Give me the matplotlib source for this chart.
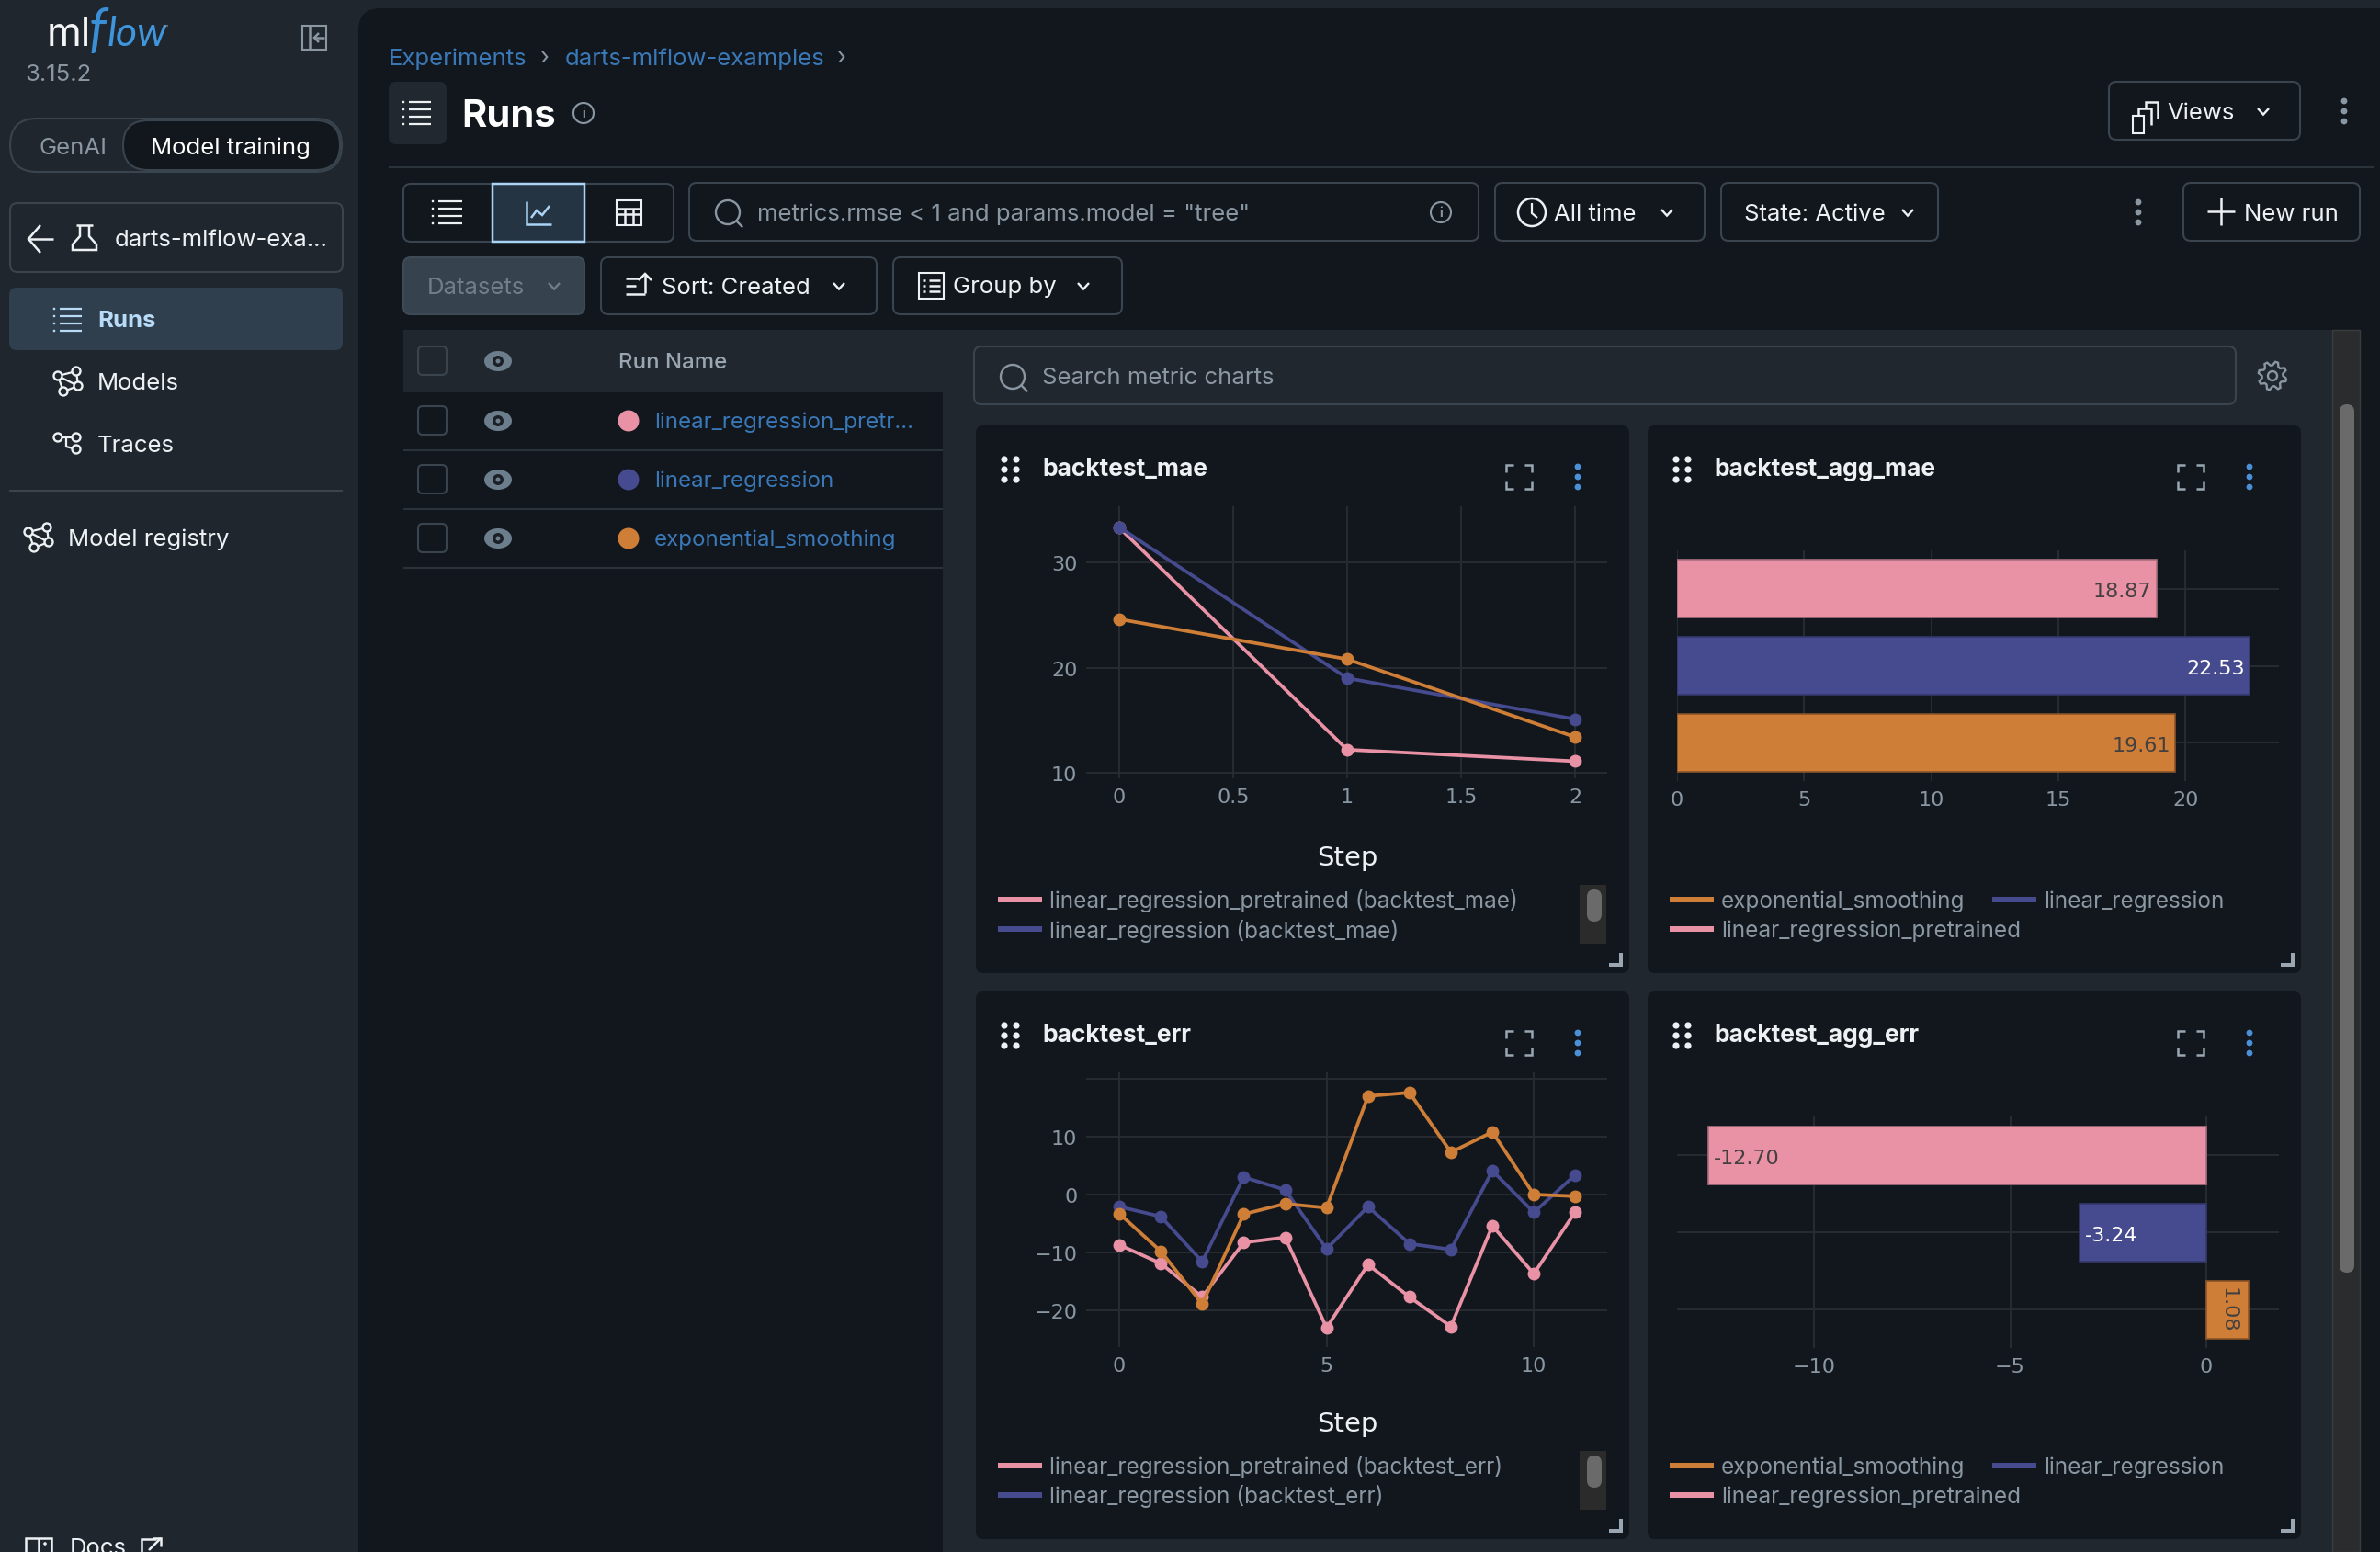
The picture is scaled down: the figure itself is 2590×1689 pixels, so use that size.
"""MLflow runs page with the metric charts of darts-mlflow-examples."""
import numpy as np
import matplotlib
matplotlib.use("Agg")
import matplotlib.pyplot as plt
from matplotlib.patches import FancyBboxPatch, Circle, Ellipse, Rectangle

W, H = 2590, 1690

# ---------- Data ----------
RUN_NAMES = ["linear_regression_pretrained", "linear_regression", "exponential_smoothing"]
RUN_LABELS = ["linear_regression_pretr...", "linear_regression", "exponential_smoothing"]

MAE_STEPS = [0, 1, 2]
MAE_PRETRAINED = [33.3, 12.2, 11.1]
MAE_LINEAR = [33.35, 19.0, 15.1]
MAE_EXP = [24.6, 20.8, 13.4]

ERR_STEPS = [0, 1, 2, 3, 4, 5, 6, 7, 8, 9, 10, 11]
ERR_PRETRAINED = [-8.7, -11.9, -17.7, -8.3, -7.4, -23.0, -12.1, -17.7, -22.8, -5.4, -13.7, -3.0]
ERR_LINEAR = [-2.1, -3.8, -11.6, 3.0, 0.8, -9.4, -2.1, -8.5, -9.5, 4.1, -3.1, 3.4]
ERR_EXP = [-3.3, -9.8, -18.9, -3.4, -1.6, -2.3, 17.0, 17.6, 7.3, 10.8, 0.0, -0.3]

AGG_MAE = [19.61, 22.53, 18.87]
AGG_ERR = [1.08, -3.24, -12.70]
AGG_NAMES = ["exponential_smoothing", "linear_regression", "linear_regression_pretrained"]

# ---------- Colours ----------
PINK = "#e992a6"
BLUE = "#464a8e"
ORANGE = "#cf7e38"
SIDE = "#1f262d"
PANEL = "#21272f"
DARK = "#11171c"
BORDER = "#3a444e"
GRID = "#252b31"
MUTED = "#8a97a3"
LINK = "#3a78b8"
WHITE = "#eef1f4"
UI_FONT = "Inter"
TICK_FONT = "DejaVu Sans"
UI_SIZE = 18.5
LEGEND_SIZE = 17.5
TICK_SIZE = 16

fig = plt.figure(figsize=(W / 100, H / 100), dpi=100, facecolor=SIDE)
ui = fig.add_axes([0, 0, 1, 1], zorder=0)
ui.set_xlim(0, W)
ui.set_ylim(H, 0)
ui.axis("off")


# ---------- Helpers ----------
def box(l, t, r, b, fc="none", ec=BORDER, rad=8, lw=1.5, z=2):
    ui.add_patch(FancyBboxPatch((l, t), r - l, b - t, boxstyle=f"round,pad=0,rounding_size={rad}",
                                fc=fc, ec=ec, lw=lw, zorder=z))


def txt(x, y, s, size=UI_SIZE, color=WHITE, weight="normal", ha="left", font=UI_FONT, **kw):
    ui.text(x, y + 2, s, fontsize=size, color=color, weight=weight, ha=ha, va="center",
            family=font, zorder=5, **kw)


def line(xs, ys, color=WHITE, lw=1.8, z=4):
    ui.plot(xs, ys, color=color, lw=lw, solid_capstyle="butt", solid_joinstyle="miter", zorder=z)


def dot(x, y, r, color, z=4):
    ui.add_patch(Circle((x, y), r, fc=color, ec="none", zorder=z))


def chevron(x, y, color=WHITE, s=6):
    line([x - s, x, x + s], [y - s * 0.5, y + s * 0.6, y - s * 0.5], color, 1.7)


def kebab(x, y, color=MUTED, gap=11, r=3.4):
    for k in (-1, 0, 1):
        dot(x, y + k * gap, r, color)


def list_icon(cx, cy, color=WHITE, w=16, gap=8):
    for k in (-1.5, -0.5, 0.5, 1.5):
        dot(cx - w - 2, cy + k * gap, 1.3, color)
        line([cx - w + 4, cx + w], [cy + k * gap, cy + k * gap], color, 1.6)


def magnifier(cx, cy, color=MUTED, r=13):
    ui.add_patch(Circle((cx, cy), r, fc="none", ec=color, lw=1.7, zorder=4))
    line([cx + r * 0.7, cx + r * 1.25], [cy + r * 0.7, cy + r * 1.25], color, 1.7)


def info(cx, cy, color=MUTED, r=11):
    ui.add_patch(Circle((cx, cy), r, fc="none", ec=color, lw=1.5, zorder=4))
    txt(cx, cy - 2, "i", 10, color, "bold", ha="center")


def ring(x, y, color=WHITE, r=4.5):
    ui.add_patch(Circle((x, y), r, fc=SIDE, ec=color, lw=1.7, zorder=5))


def model_icon(cx, cy, color=WHITE):
    pts = [(-11, -6), (9, -11), (11, 5), (-5, 11)]
    for a, b in zip(pts, pts[1:] + pts[:1]):
        line([cx + a[0], cx + b[0]], [cy + a[1], cy + b[1]], color, 1.6)
    line([cx - 11, cx + 11], [cy - 6, cy + 5], color, 1.6)
    for p in pts:
        ring(cx + p[0], cy + p[1], color)


def trace_icon(cx, cy, color=WHITE):
    line([cx - 11, cx + 9], [cy - 7, cy - 7], color, 1.6)
    line([cx - 2, cx - 2, cx + 9], [cy - 7, cy + 3, cy + 6], color, 1.6)
    for p in [(-11, -7), (9, -7), (9, 6)]:
        ring(cx + p[0], cy + p[1], color)


def gear(cx, cy, color=MUTED):
    ang = np.linspace(0, 2 * np.pi, 33)
    rad = np.where(np.arange(33) % 4 < 2, 15.5, 11.5)
    line(cx + rad * np.cos(ang + 0.2), cy + rad * np.sin(ang + 0.2), color, 1.7)
    ui.add_patch(Circle((cx, cy), 5, fc="none", ec=color, lw=1.7, zorder=4))


def drag(x, y):
    for i in (0, 1):
        for j in (0, 1, 2):
            dot(x + i * 13, y + j * 11, 3.6, WHITE)


def expand(l, t, r, b, color="#9aa7b2"):
    s = 8
    line([l, l, l + s], [t + s, t, t], color)
    line([r - s, r, r], [t, t, t + s], color)
    line([l, l, l + s], [b - s, b, b], color)
    line([r - s, r, r], [b, b, b - s], color)


def corner(r, b, color="#9aa7b2"):
    ui.add_patch(Rectangle((r - 15, b - 4), 15, 4, fc=color, ec="none", zorder=4))
    ui.add_patch(Rectangle((r - 4, b - 15), 4, 15, fc=color, ec="none", zorder=4))


def px_axes(l, t, r, b):
    ax = fig.add_axes([l / W, 1 - b / H, (r - l) / W, (b - t) / H], zorder=3)
    ax.set_facecolor("none")
    for s in ax.spines.values():
        s.set_visible(False)
    ax.grid(True, color=GRID, lw=1.5)
    ax.set_axisbelow(True)
    ax.tick_params(length=0, labelsize=TICK_SIZE, labelcolor=MUTED, pad=7)
    return ax


def legend_line(x0, x1, y, color):
    ui.add_patch(Rectangle((x0, y - 3), x1 - x0, 6, fc=color, ec="none", zorder=4))


def card(l, t, r, b, title):
    box(l, t, r, b, fc=DARK, ec="none", rad=8, lw=0, z=1.5)
    drag(l + 31, t + 37)
    txt(l + 72, t + 45, title, 19, WHITE, "bold")
    expand(r - 134, t + 43, r - 106, t + 69)
    kebab(r - 56, t + 56, "#4a90d9")
    corner(r - 7, b - 7)


# ---------- Page frame ----------
box(390, 10, W + 40, H + 40, fc=DARK, ec="none", rad=24, lw=0, z=1)

# sidebar
txt(51, 36, "ml", 31, "#f2f4f6")
txt(97, 32, "f", 42, "#3b8fd6", style="italic", font="Lato")
txt(117, 36, "low", 32, "#3f96dc", style="italic", font="Lato")
txt(178, 28, "\u2122", 6, MUTED)
txt(27, 80, "3.15.2", 18.5, MUTED)
box(329, 29, 355, 55, ec=MUTED, rad=0)
line([337, 337], [29, 55], MUTED)
line([342, 353], [42, 42], MUTED)
line([347, 342, 347], [37, 42, 47], MUTED)

box(11, 130, 372, 188, ec=BORDER, rad=29)
box(134, 132, 370, 186, fc=DARK, ec=BORDER, rad=27)
txt(80, 159, "GenAI", UI_SIZE, MUTED, ha="center")
txt(251, 159, "Model training", UI_SIZE, "#ffffff", ha="center")

box(11, 222, 373, 297)
line([32, 58], [261, 261], WHITE)
line([44, 31, 44], [246, 261, 276], WHITE)
line([87, 87, 79, 79, 105, 105, 97, 97], [246, 258, 267, 273, 273, 267, 258, 246], WHITE)
line([83, 101], [246, 246], WHITE)
txt(125, 259, "darts-mlflow-exa...")

box(10, 314, 373, 382, fc="#2f3f4e", ec="none", rad=8, lw=0)
list_icon(75, 349, "#b8dcf7", 14, 8)
txt(106, 347, "Runs", UI_SIZE, "#b8dcf7", "bold")
model_icon(74, 416)
txt(106, 415, "Models")
trace_icon(74, 484)
txt(106, 483, "Traces")
line([10, 373], [535, 535], BORDER, 1.5)
model_icon(42, 586)
txt(74, 585, "Model registry")
# book icon cut off by the bottom of the page
line([28, 28, 42, 56, 56], [1695, 1675, 1675, 1675, 1695], WHITE)
line([42, 42], [1675, 1695], WHITE)
dot(49, 1681, 1.8, WHITE)
txt(76, 1684, "Docs")
line([170, 154, 154], [1676, 1676, 1695], WHITE)
line([162, 175], [1688, 1675], WHITE)
line([166, 175, 175], [1675, 1675, 1684], WHITE)

# header
txt(423, 62, "Experiments", UI_SIZE, LINK)
txt(593, 62, "›", UI_SIZE, MUTED, ha="center")
txt(615, 62, "darts-mlflow-examples", UI_SIZE, LINK)
txt(916, 62, "›", UI_SIZE, MUTED, ha="center")
box(423, 90, 486, 158, fc="#21282f", ec="none", lw=0)
list_icon(455, 124, WHITE, 14, 8)
txt(502, 125, "Runs", 30, "#ffffff", "bold")
info(635, 124)
box(2295, 90, 2503, 153)
box(2321, 127, 2333, 146, ec=WHITE, rad=0)
line([2327, 2327, 2341, 2341], [127, 119, 119, 137], WHITE)
line([2335, 2335, 2348, 2348], [119, 112, 112, 130], WHITE)
txt(2358, 121, "Views")
chevron(2463, 122)
kebab(2551, 122)
line([423, 2584], [183, 183], "#2a323a", 1.5)

# toolbar
box(439, 201, 733, 264)
box(536, 201, 636, 264, fc="#253442", ec="#a9d4f5", rad=0, lw=1.8, z=3)
list_icon(488, 232, WHITE, 15, 8)
line([573, 573, 600], [220, 245, 245], "#a9d4f5")
line([578, 584, 590, 598], [238, 230, 235, 225], "#a9d4f5")
box(671, 219, 698, 246, ec=WHITE, rad=0)
line([671, 698], [228, 228], WHITE)
line([671, 698], [234, 234], WHITE)
line([680, 680], [228, 246], WHITE)
line([689, 689], [228, 246], WHITE)

box(750, 200, 1609, 263)
magnifier(792, 232)
txt(824, 231, 'metrics.rmse < 1 and params.model = "tree"', UI_SIZE, MUTED)
info(1568, 232)
box(1627, 200, 1855, 263)
ui.add_patch(Circle((1667, 232), 15, fc="none", ec=WHITE, lw=1.8, zorder=4))
line([1667, 1667, 1673], [222, 233, 238], WHITE, 1.6)
txt(1691, 231, "All time")
chevron(1814, 232)
box(1873, 200, 2109, 263)
txt(1898, 231, "State: Active")
chevron(2076, 232)
kebab(2327, 232)
box(2376, 200, 2568, 263)
line([2417, 2417], [216, 246], WHITE)
line([2402, 2432], [231, 231], WHITE)
txt(2442, 231, "New run")

box(439, 281, 636, 343, fc="#36424e", ec="#3e4a55")
txt(465, 311, "Datasets", UI_SIZE, "#6f7e8b")
chevron(603, 312, "#6f7e8b")
box(654, 281, 954, 343)
line([681, 696], [304, 304], WHITE)
line([681, 692], [312, 312], WHITE)
line([681, 702], [321, 321], WHITE)
line([702, 702], [320, 299], WHITE)
line([695, 702, 709], [306, 299, 306], WHITE)
txt(720, 311, "Sort: Created")
chevron(913, 312)
box(972, 281, 1221, 343)
box(1000, 298, 1027, 326, ec=WHITE, rad=0)
for yy in (306, 312, 318):
    line([1004, 1007], [yy, yy], WHITE)
    line([1011, 1023], [yy, yy], WHITE)
txt(1037, 311, "Group by")
chevron(1179, 312)

# run table and chart panel
ui.add_patch(Rectangle((439, 360), 2129, H - 360, fc=PANEL, ec="none", zorder=1.2))
ui.add_patch(Rectangle((439, 428), 587, H - 428, fc=DARK, ec="none", zorder=1.3))
ui.add_patch(Rectangle((2538, 360), 30, H - 360, fc="#2b2c2e", ec="#3a3d40", lw=1, zorder=1.4))
box(2546, 441, 2562, 1386, fc="#6a6a6a", ec="none", rad=8, lw=0)


def eye(x, y):
    ui.add_patch(Ellipse((x, y), 30, 22, fc="#6c7d8c", ec="none", zorder=4))
    dot(x, y, 6, "#1a2026", 4.5)
    dot(x, y, 2.5, "#6c7d8c", 4.6)


box(455, 378, 486, 409, rad=5)
eye(542, 394)
txt(673, 393, "Run Name", 17.3, "#9aa6b1", "medium")
for row_y, label, col in zip([459, 523, 587], RUN_LABELS, [PINK, BLUE, ORANGE]):
    box(455, row_y - 16, 486, row_y + 15, rad=5)
    eye(542, row_y)
    dot(684, row_y, 11.5, col)
    txt(712, row_y - 1, label, 17.4, LINK)
for yy in (491, 555, 619):
    line([439, 1026], [yy, yy], "#2a323a", 1.5)

box(1060, 378, 2433, 441)
magnifier(1102, 411)
txt(1134, 409, "Search metric charts", UI_SIZE, MUTED)
gear(2473, 410)

# ---------- Cards ----------
card(1062, 464, 1773, 1060, "backtest_mae")
card(1793, 464, 2504, 1060, "backtest_agg_mae")
card(1062, 1080, 1773, 1676, "backtest_err")
card(1793, 1080, 2504, 1676, "backtest_agg_err")


def line_chart(rect, steps, series, xlim, ylim, xticks, xlabels, yticks, ylabels):
    ax = px_axes(*rect)
    for vals, col in series:
        ax.plot(steps, vals, color=col, lw=2.7, marker="o", ms=9, mec=col, clip_on=False)
    ax.set_xlim(*xlim)
    ax.set_ylim(*ylim)
    ax.set_xticks(xticks, xlabels, family=TICK_FONT)
    ax.set_yticks(yticks, ylabels, family=TICK_FONT)
    return ax


SERIES_COLORS = [PINK, BLUE, ORANGE]
line_chart((1182, 552, 1749, 848), MAE_STEPS,
           list(zip([MAE_PRETRAINED, MAE_LINEAR, MAE_EXP], SERIES_COLORS)),
           (-0.145, 2.141), (9.48, 35.33), [0, 0.5, 1, 1.5, 2], ["0", "0.5", "1", "1.5", "2"],
           [10, 20, 30], ["10", "20", "30"])
line_chart((1182, 1168, 1749, 1467), ERR_STEPS,
           list(zip([ERR_PRETRAINED, ERR_LINEAR, ERR_EXP], SERIES_COLORS)),
           (-0.8, 11.77), (-26.35, 21.1), [0, 5, 10], ["0", "5", "10"],
           [-20, -10, 0, 10, 20], ["\u221220", "\u221210", "0", "10", ""])


def bar_chart(rect, values, xlim, xticks, xlabels, fmt, inside):
    ax = px_axes(*rect)
    cols = [ORANGE, BLUE, PINK]
    edges = ["#8a5428", "#35386c", "#a9707f"]
    ypos = range(len(values))
    ax.barh(ypos, values, height=0.75, color=cols, edgecolor=edges, lw=1.2, zorder=3)
    for y, v in zip(ypos, values):
        col = "#ffffff" if y == 1 else "#43403f"
        dx = inside if v > 0 else -inside
        if abs(v) < 2:
            # label too long for the bar, plotly turns it
            ax.text(v / 2, y, fmt % v, rotation=-90, ha="center", va="center",
                    fontsize=TICK_SIZE, color=col, family=TICK_FONT, zorder=4)
        else:
            ax.text(v - dx, y - 0.03, fmt % v, ha="right" if v > 0 else "left", va="center",
                    fontsize=TICK_SIZE, color=col, family=TICK_FONT, zorder=4)
    ax.set_xlim(*xlim)
    ax.set_ylim(-0.5, 2.5)
    ax.set_xticks(xticks, xlabels, family=TICK_FONT)
    ax.set_yticks(list(ypos), ["", "", ""])
    return ax


bar_chart((1825, 600, 2480, 851), AGG_MAE, (0, 23.68), [0, 5, 10, 15, 20],
          ["0", "5", "10", "15", "20"], "%.2f", 0.2)
bar_chart((1825, 1216, 2480, 1468), AGG_ERR, (-13.49, 1.85), [-10, -5, 0],
          ["\u221210", "\u22125", "0"], "%.2f", 0.15)

# axis titles
for yy in (932, 1548):
    txt(1466, yy, "Step", 21, WHITE, ha="center", font=TICK_FONT)

# ---------- Legends ----------
for top, metric in ((980, "backtest_mae"), (1596, "backtest_err")):
    for k, (name, col) in enumerate(zip(RUN_NAMES[:2], [PINK, BLUE])):
        y = top + k * 32
        legend_line(1086, 1134, y, col)
        txt(1142, y - 1, f"{name} ({metric})", LEGEND_SIZE, MUTED)
    ui.add_patch(Rectangle((1719, top - 16), 29, 64, fc="#2b2b2b", ec="none", zorder=4))
    box(1727, top - 11, 1743, top + 24, fc="#6a6a6a", ec="none", rad=8, lw=0, z=5)

for top in (980, 1596):
    legend_line(1817, 1865, top, ORANGE)
    txt(1873, top - 1, AGG_NAMES[0], LEGEND_SIZE, MUTED)
    legend_line(2168, 2216, top, BLUE)
    txt(2224, top - 1, AGG_NAMES[1], LEGEND_SIZE, MUTED)
    legend_line(1817, 1865, top + 32, PINK)
    txt(1873, top + 31, AGG_NAMES[2], LEGEND_SIZE, MUTED)

fig.savefig("out.png", dpi=100, facecolor=fig.get_facecolor())
